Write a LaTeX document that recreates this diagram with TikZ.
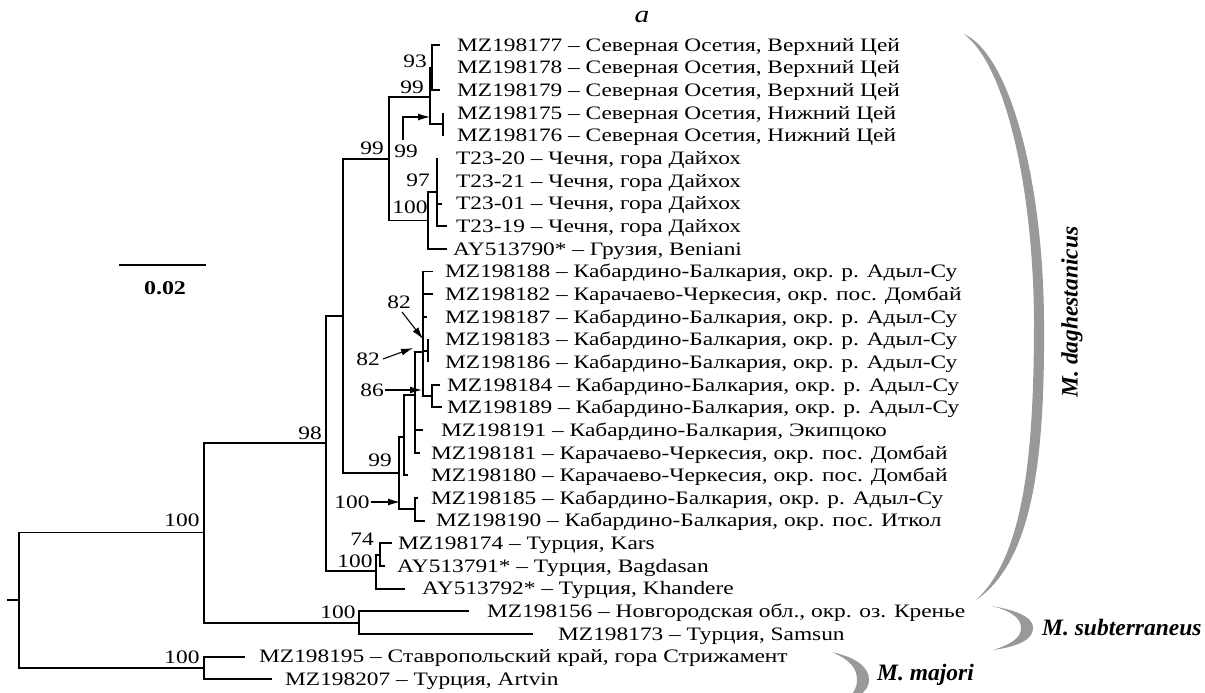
\documentclass[tikz,border=0pt]{standalone}
\usepackage{fontspec}
\setmainfont{Liberation Serif}[FakeStretch=1.23]
\newfontfamily\spfont{Liberation Serif}
\usetikzlibrary{arrows.meta}
\begin{document}
\begin{tikzpicture}[x=1pt,y=-1pt,
  br/.style={line width=1.9pt},
  lab/.style={anchor=base west, inner sep=0pt, font=\fontsize{19}{21}\selectfont},
  sup/.style={inner sep=0pt, font=\fontsize{19}{21}\selectfont},
  arr/.style={line width=1.1pt, -{Latex[length=12pt,width=7pt]}},
  sp/.style={inner sep=0pt, font=\spfont\bfseries\itshape\fontsize{23.5}{25}\selectfont},
  brk/.style={fill=black!40, draw=none}]
\useasboundingbox (0,0) rectangle (1205,693);

% internal nodes
\coordinate (stub) at (7,600);
\coordinate (root) at (19,600);
\coordinate (R1) at (204,532.5);
\coordinate (Nmaj) at (204,668);
\coordinate (N98) at (326,443);
\coordinate (Nsub) at (359,622.6);
\coordinate (N99a) at (343,316);
\coordinate (NTur) at (376,571);
\coordinate (N74) at (380,554.6);
\coordinate (N99b) at (389,159);
\coordinate (Noss) at (430,97);
\coordinate (N93) at (432,67.65);
\coordinate (N175) at (443,124.3);
\coordinate (N100c) at (428,220.5);
\coordinate (N97) at (437,192.2);
\coordinate (K99) at (399,473);
\coordinate (N1) at (404,437);
\coordinate (N2) at (415,395);
\coordinate (N3) at (423,352);
\coordinate (N4) at (428,350.8);
\coordinate (N5) at (432,396);
\coordinate (N100) at (415,509);

% leaf tips
\coordinate (l0) at (440,45);
\coordinate (l1) at (432,67.65);
\coordinate (l2) at (440,90.3);
\coordinate (l3) at (443,112.95);
\coordinate (l4) at (443,135.6);
\coordinate (l5) at (437,158.25);
\coordinate (l6) at (437,180.9);
\coordinate (l7) at (442,203.55);
\coordinate (l8) at (447,226.2);
\coordinate (l9) at (447,248.85);
\coordinate (l10) at (433,271.5);
\coordinate (l11) at (433,294.15);
\coordinate (l12) at (427,316.8);
\coordinate (l13) at (428,339.45);
\coordinate (l14) at (428,362.1);
\coordinate (l15) at (440,384.75);
\coordinate (l16) at (442,407.4);
\coordinate (l17) at (423,430.05);
\coordinate (l18) at (420,452.7);
\coordinate (l19) at (408,475.35);
\coordinate (l20) at (418,498);
\coordinate (l21) at (425,520.65);
\coordinate (l22) at (392,543.3);
\coordinate (l23) at (385,565.95);
\coordinate (l24) at (405,588.6);
\coordinate (l25) at (469,611.25);
\coordinate (l26) at (533,633.9);
\coordinate (l27) at (245,656.55);
\coordinate (l28) at (272,679.2);

% branches
\draw[br] (stub) -- (root);
\draw[br] (root) |- (R1); \draw[br] (root) |- (Nmaj);
\draw[br] (R1) |- (N98); \draw[br] (R1) |- (Nsub);
\draw[br] (Nmaj) |- (l27); \draw[br] (Nmaj) |- (l28);
\draw[br] (Nsub) |- (l25); \draw[br] (Nsub) |- (l26);
\draw[br] (N98) |- (N99a); \draw[br] (N98) |- (NTur);
\draw[br] (NTur) |- (N74); \draw[br] (NTur) |- (l24);
\draw[br] (N74) |- (l22); \draw[br] (N74) |- (l23);
\draw[br] (N99a) |- (N99b); \draw[br] (N99a) |- (K99);
\draw[br] (N99b) |- (Noss); \draw[br] (N99b) |- (N100c);
\draw[br] (Noss) |- (N93); \draw[br] (Noss) |- (N175);
\draw[br] (N93) |- (l0); \draw[br] (N93) |- (l1); \draw[br] (N93) |- (l2);
\draw[br] (N175) |- (l3); \draw[br] (N175) |- (l4);
\draw[br] (N100c) |- (N97); \draw[br] (N100c) |- (l9);
\draw[br] (N97) |- (l5); \draw[br] (N97) |- (l6); \draw[br] (N97) |- (l7); \draw[br] (N97) |- (l8);
\draw[br] (K99) |- (N1); \draw[br] (K99) |- (N100);
\draw[br] (N1) |- (N2); \draw[br] (N1) |- (l19);
\draw[br] (N2) |- (N3); \draw[br] (N2) |- (l17); \draw[br] (N2) |- (l18);
\draw[br] (N3) |- (l10); \draw[br] (N3) |- (l11); \draw[br] (N3) |- (l12);
\draw[br] (N3) |- (N4); \draw[br] (N3) |- (N5);
\draw[br] (N4) |- (l13); \draw[br] (N4) |- (l14);
\draw[br] (N5) |- (l15); \draw[br] (N5) |- (l16);
\draw[br] (N100) |- (l20); \draw[br] (N100) |- (l21);

% leaf labels
\node[lab] (t0) at (457,51.3) {MZ198177 – Северная Осетия, Верхний Цей};
\node[lab] (t1) at (457,73.95) {MZ198178 – Северная Осетия, Верхний Цей};
\node[lab] (t2) at (457,96.6) {MZ198179 – Северная Осетия, Верхний Цей};
\node[lab] (t3) at (457,119.25) {MZ198175 – Северная Осетия, Нижний Цей};
\node[lab] (t4) at (457,141.9) {MZ198176 – Северная Осетия, Нижний Цей};
\node[lab] (t5) at (456,164.55) {T23-20 – Чечня, гора Дайхох};
\node[lab] (t6) at (456,187.2) {T23-21 – Чечня, гора Дайхох};
\node[lab] (t7) at (456,209.85) {T23-01 – Чечня, гора Дайхох};
\node[lab] (t8) at (456,232.5) {T23-19 – Чечня, гора Дайхох};
\node[lab] (t9) at (453,255.15) {AY513790* – Грузия, Beniani};
\node[lab] (t10) at (445,277.8) {MZ198188 – Кабардино-Балкария, окр. р. Адыл-Су};
\node[lab] (t11) at (445,300.45) {MZ198182 – Карачаево-Черкесия, окр. пос. Домбай};
\node[lab] (t12) at (445,323.1) {MZ198187 – Кабардино-Балкария, окр. р. Адыл-Су};
\node[lab] (t13) at (445,345.75) {MZ198183 – Кабардино-Балкария, окр. р. Адыл-Су};
\node[lab] (t14) at (445,368.4) {MZ198186 – Кабардино-Балкария, окр. р. Адыл-Су};
\node[lab] (t15) at (447,391.05) {MZ198184 – Кабардино-Балкария, окр. р. Адыл-Су};
\node[lab] (t16) at (447,413.7) {MZ198189 – Кабардино-Балкария, окр. р. Адыл-Су};
\node[lab] (t17) at (441,436.35) {MZ198191 – Кабардино-Балкария, Экипцоко};
\node[lab] (t18) at (431,459) {MZ198181 – Карачаево-Черкесия, окр. пос. Домбай};
\node[lab] (t19) at (431,481.65) {MZ198180 – Карачаево-Черкесия, окр. пос. Домбай};
\node[lab] (t20) at (431,504.3) {MZ198185 – Кабардино-Балкария, окр. р. Адыл-Су};
\node[lab] (t21) at (436,526.95) {MZ198190 – Кабардино-Балкария, окр. пос. Иткол};
\node[lab] (t22) at (398,549.6) {MZ198174 – Турция, Kars};
\node[lab] (t23) at (397,572.25) {AY513791* – Турция, Bagdasan};
\node[lab] (t24) at (422,594.9) {AY513792* – Турция, Khandere};
\node[lab] (t25) at (487,617.55) {MZ198156 – Новгородская обл., окр. оз. Кренье};
\node[lab] (t26) at (558,640.2) {MZ198173 – Турция, Samsun};
\node[lab] (t27) at (259,662.85) {MZ198195 – Ставропольский край, гора Стрижамент};
\node[lab] (t28) at (285,685.5) {MZ198207 – Турция, Artvin};

% support values
\node[sup] (s93) at (415,61) {93};
\node[sup] (s99oss) at (412,87) {99};
\node[sup] (s99b) at (372,148) {99};
\node[sup] (s99arr) at (406,151) {99};
\node[sup] (s97) at (418,180) {97};
\node[sup] (s100c) at (410,207) {100};
\node[sup] (s82a) at (399,302) {82};
\node[sup] (s82b) at (368,359) {82};
\node[sup] (s86) at (372,390) {86};
\node[sup] (s99k) at (380,460) {99};
\node[sup] (s100k) at (352,502) {100};
\node[sup] (s74) at (362,539) {74};
\node[sup] (s100t) at (355,561) {100};
\node[sup] (s98) at (310,433) {98};
\node[sup] (s100r) at (182,520) {100};
\node[sup] (s100s) at (338,612) {100};
\node[sup] (s100m) at (182,657) {100};

% arrows to nodes
\coordinate (a1s) at (403,140);
\coordinate (a1e) at (430,117);
\draw[arr] (a1s) |- (a1e);
\coordinate (a2s) at (402,312);
\coordinate (a2e) at (423,339);
\draw[arr] (a2s) -- (a2e);
\coordinate (a3s) at (383,359);
\coordinate (a3e) at (413,348);
\draw[arr] (a3s) -- (a3e);
\coordinate (a4s) at (385,390);
\coordinate (a4e) at (422,390);
\draw[arr] (a4s) -- (a4e);
\coordinate (a5s) at (371,502);
\coordinate (a5e) at (400,502);
\draw[arr] (a5s) -- (a5e);

% title and scale
\node[sup, font=\itshape\fontsize{24}{26}\selectfont] (ttl) at (642,17) {a};
\coordinate (sb1) at (119,265);
\coordinate (sb2) at (206,265);
\draw[br] (sb1) -- (sb2);
\node[sup, font=\bfseries\fontsize{19.5}{21}\selectfont] (sbl) at (165,288) {0.02};

% clade brackets
\fill[brk] (964,34) .. controls (1010,55) and (1043,180) .. (1044,320)
  .. controls (1045,450) and (1035,560) .. (976,600)
  .. controls (1025,555) and (1034,450) .. (1034,320)
  .. controls (1033,185) and (1005,65) .. (964,34) -- cycle;
\node[sp, rotate=90] (cd) at (1072,312) {M. daghestanicus};

\fill[brk] (992,606) .. controls (1025,612) and (1033,620) .. (1033,628)
  .. controls (1033,638) and (1022,646) .. (993,650)
  .. controls (1015,643) and (1021,636) .. (1021,628)
  .. controls (1021,620) and (1015,612) .. (992,606) -- cycle;
\node[sp, anchor=west] (cs) at (1042,628) {M. subterraneus};

\fill[brk] (832,652) .. controls (858,658) and (869,668) .. (869,680)
  .. controls (869,690) and (860,697) .. (845,702)
  .. controls (853,694) and (857,688) .. (857,680)
  .. controls (857,668) and (850,660) .. (832,652) -- cycle;
\node[sp, anchor=west] (cm) at (877,675) {M. majori};
\end{tikzpicture}
\end{document}
